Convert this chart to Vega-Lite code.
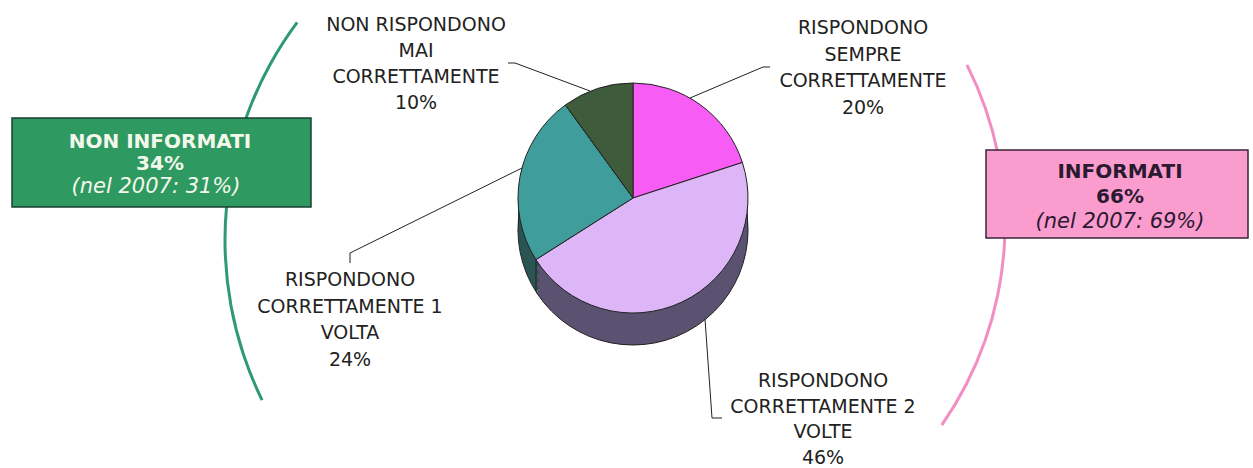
{
  "$schema": "https://vega.github.io/schema/vega-lite/v6.json",
  "width": 1253,
  "height": 468,
  "padding": 0,
  "autosize": "none",
  "background": "white",
  "config": {"view": {"stroke": null}, "axis": {"disable": true}, "legend": {"disable": true}},
  "data": {"values": [
    {"n": 1, "cat": "Rispondono sempre correttamente", "value": 20, "label": "RISPONDONO\nSEMPRE\nCORRETTAMENTE\n20%"},
    {"n": 2, "cat": "Rispondono correttamente 2 volte", "value": 46, "label": "RISPONDONO\nCORRETTAMENTE 2\nVOLTE\n46%"},
    {"n": 3, "cat": "Rispondono correttamente 1 volta", "value": 24, "label": "RISPONDONO\nCORRETTAMENTE 1\nVOLTA\n24%"},
    {"n": 4, "cat": "Non rispondono mai correttamente", "value": 10, "label": "NON RISPONDONO\nMAI\nCORRETTAMENTE\n10%"}
  ]},
  "layer": [
    {
      "data": {"values": [{}]},
      "mark": {"type": "arc", "theta": 4.257, "theta2": 5.353, "outerRadius": 365.5, "innerRadius": 362.5, "fill": "#2f9a72"},
      "encoding": {
        "x": {"datum": 589, "type": "quantitative", "scale": {"domain": [0, 1253], "nice": false, "zero": false}},
        "y": {"datum": 240, "type": "quantitative", "scale": {"domain": [0, 468], "nice": false, "zero": false, "reverse": true}}
      }
    },
    {
      "data": {"values": [{}]},
      "mark": {"type": "arc", "theta": 1.101, "theta2": 2.18, "outerRadius": 353, "innerRadius": 350, "fill": "#f28ec4"},
      "encoding": {
        "x": {"datum": 653.5, "type": "quantitative"},
        "y": {"datum": 224, "type": "quantitative"}
      }
    },
    {
      "mark": {"type": "arc", "outerRadius": 115},
      "encoding": {
        "theta": {"field": "value", "type": "quantitative", "stack": true},
        "order": {"field": "n", "type": "quantitative"},
        "fill": {"field": "cat", "type": "nominal", "scale": {"domain": ["Rispondono sempre correttamente", "Rispondono correttamente 2 volte", "Rispondono correttamente 1 volta", "Non rispondono mai correttamente"], "range": ["#8c2e8c", "#5a5270", "#2b5553", "#25361f"]}},
        "x": {"datum": 633, "type": "quantitative"},
        "y": {"datum": 230, "type": "quantitative"}
      }
    },
    {
      "mark": {"type": "arc", "outerRadius": 115},
      "encoding": {
        "theta": {"field": "value", "type": "quantitative", "stack": true},
        "order": {"field": "n", "type": "quantitative"},
        "fill": {"field": "cat", "type": "nominal"},
        "x": {"datum": 633, "type": "quantitative"},
        "y": {"datum": 222, "type": "quantitative"}
      }
    },
    {
      "mark": {"type": "arc", "outerRadius": 115},
      "encoding": {
        "theta": {"field": "value", "type": "quantitative", "stack": true},
        "order": {"field": "n", "type": "quantitative"},
        "fill": {"field": "cat", "type": "nominal"},
        "x": {"datum": 633, "type": "quantitative"},
        "y": {"datum": 214, "type": "quantitative"}
      }
    },
    {
      "mark": {"type": "arc", "outerRadius": 115},
      "encoding": {
        "theta": {"field": "value", "type": "quantitative", "stack": true},
        "order": {"field": "n", "type": "quantitative"},
        "fill": {"field": "cat", "type": "nominal"},
        "x": {"datum": 633, "type": "quantitative"},
        "y": {"datum": 206, "type": "quantitative"}
      }
    },
    {
      "data": {"values": [{}]},
      "mark": {"type": "arc", "theta": 0, "theta2": 6.2832, "outerRadius": 115, "fillOpacity": 0, "stroke": "#222", "strokeWidth": 1},
      "encoding": {
        "x": {"datum": 633, "type": "quantitative"},
        "y": {"datum": 230, "type": "quantitative"}
      }
    },
    {
      "data": {"values": [{}]},
      "mark": {"type": "rule", "color": "#222", "strokeWidth": 1},
      "encoding": {
        "x": {"datum": 536, "type": "quantitative"},
        "y": {"datum": 259, "type": "quantitative"},
        "y2": {"datum": 291}
      }
    },
    {
      "mark": {"type": "arc", "outerRadius": 115, "stroke": "#222", "strokeWidth": 1},
      "encoding": {
        "theta": {"field": "value", "type": "quantitative", "stack": true},
        "order": {"field": "n", "type": "quantitative"},
        "color": {"field": "cat", "type": "nominal", "scale": {"domain": ["Rispondono sempre correttamente", "Rispondono correttamente 2 volte", "Rispondono correttamente 1 volta", "Non rispondono mai correttamente"], "range": ["#f75cf5", "#dcb6f7", "#3f9d9b", "#3e5c3c"]}},
        "stroke": {"value": "#222"},
        "x": {"datum": 633, "type": "quantitative"},
        "y": {"datum": 198, "type": "quantitative"}
      }
    },
    {
      "data": {"values": [{}]},
      "layer": [
        {"mark": {"type": "rule", "color": "#222"}, "encoding": {"x": {"datum": 508, "type": "quantitative"}, "y": {"datum": 63, "type": "quantitative"}, "x2": {"datum": 515}, "y2": {"datum": 63}}},
        {"mark": {"type": "rule", "color": "#222"}, "encoding": {"x": {"datum": 515, "type": "quantitative"}, "y": {"datum": 63, "type": "quantitative"}, "x2": {"datum": 590}, "y2": {"datum": 91}}},
        {"mark": {"type": "rule", "color": "#222"}, "encoding": {"x": {"datum": 770, "type": "quantitative"}, "y": {"datum": 67, "type": "quantitative"}, "x2": {"datum": 763}, "y2": {"datum": 67}}},
        {"mark": {"type": "rule", "color": "#222"}, "encoding": {"x": {"datum": 763, "type": "quantitative"}, "y": {"datum": 67, "type": "quantitative"}, "x2": {"datum": 690}, "y2": {"datum": 98}}},
        {"mark": {"type": "rule", "color": "#222"}, "encoding": {"x": {"datum": 350, "type": "quantitative"}, "y": {"datum": 263, "type": "quantitative"}, "x2": {"datum": 350}, "y2": {"datum": 253}}},
        {"mark": {"type": "rule", "color": "#222"}, "encoding": {"x": {"datum": 350, "type": "quantitative"}, "y": {"datum": 253, "type": "quantitative"}, "x2": {"datum": 522}, "y2": {"datum": 168}}},
        {"mark": {"type": "rule", "color": "#222"}, "encoding": {"x": {"datum": 705, "type": "quantitative"}, "y": {"datum": 319, "type": "quantitative"}, "x2": {"datum": 712}, "y2": {"datum": 418}}},
        {"mark": {"type": "rule", "color": "#222"}, "encoding": {"x": {"datum": 712, "type": "quantitative"}, "y": {"datum": 418, "type": "quantitative"}, "x2": {"datum": 722}, "y2": {"datum": 418}}}
      ]
    },
    {
      "transform": [{"filter": "datum.n == 4"}],
      "mark": {"type": "text", "font": "DejaVu Sans", "fontSize": 19, "color": "#222", "lineBreak": "\n", "lineHeight": 26, "align": "center", "baseline": "middle"},
      "encoding": {"text": {"field": "label"}, "x": {"datum": 416, "type": "quantitative"}, "y": {"datum": 25, "type": "quantitative"}}
    },
    {
      "transform": [{"filter": "datum.n == 1"}],
      "mark": {"type": "text", "font": "DejaVu Sans", "fontSize": 19, "color": "#222", "lineBreak": "\n", "lineHeight": 26.5, "align": "center", "baseline": "middle"},
      "encoding": {"text": {"field": "label"}, "x": {"datum": 863, "type": "quantitative"}, "y": {"datum": 28, "type": "quantitative"}}
    },
    {
      "transform": [{"filter": "datum.n == 3"}],
      "mark": {"type": "text", "font": "DejaVu Sans", "fontSize": 19, "color": "#222", "lineBreak": "\n", "lineHeight": 26.5, "align": "center", "baseline": "middle"},
      "encoding": {"text": {"field": "label"}, "x": {"datum": 350, "type": "quantitative"}, "y": {"datum": 280, "type": "quantitative"}}
    },
    {
      "transform": [{"filter": "datum.n == 2"}],
      "mark": {"type": "text", "font": "DejaVu Sans", "fontSize": 19, "color": "#222", "lineBreak": "\n", "lineHeight": 25.5, "align": "center", "baseline": "middle"},
      "encoding": {"text": {"field": "label"}, "x": {"datum": 823, "type": "quantitative"}, "y": {"datum": 381, "type": "quantitative"}}
    },
    {
      "data": {"values": [{"group": "NON INFORMATI\n34%", "prev": "(nel 2007: 31%)"}]},
      "layer": [
        {"mark": {"type": "rect", "fill": "#2f9962", "stroke": "#1c3f30", "strokeWidth": 1.5}, "encoding": {"x": {"datum": 12, "type": "quantitative"}, "x2": {"datum": 311}, "y": {"datum": 118, "type": "quantitative"}, "y2": {"datum": 207}}},
        {"mark": {"type": "text", "font": "DejaVu Sans", "fontSize": 20, "fontWeight": "bold", "color": "#f4f8ec", "lineBreak": "\n", "lineHeight": 22, "align": "center", "baseline": "middle"}, "encoding": {"text": {"field": "group"}, "x": {"datum": 160, "type": "quantitative"}, "y": {"datum": 142, "type": "quantitative"}}},
        {"mark": {"type": "text", "font": "DejaVu Sans", "fontSize": 21, "fontStyle": "italic", "color": "#f4f8ec", "align": "center", "baseline": "middle"}, "encoding": {"text": {"field": "prev"}, "x": {"datum": 156, "type": "quantitative"}, "y": {"datum": 187, "type": "quantitative"}}}
      ]
    },
    {
      "data": {"values": [{"group": "INFORMATI\n66%", "prev": "(nel 2007: 69%)"}]},
      "layer": [
        {"mark": {"type": "rect", "fill": "#fb9ccf", "stroke": "#3a2438", "strokeWidth": 1.5}, "encoding": {"x": {"datum": 986, "type": "quantitative"}, "x2": {"datum": 1248}, "y": {"datum": 150, "type": "quantitative"}, "y2": {"datum": 238}}},
        {"mark": {"type": "text", "font": "DejaVu Sans", "fontSize": 20, "fontWeight": "bold", "color": "#2a1a30", "lineBreak": "\n", "lineHeight": 25, "align": "center", "baseline": "middle"}, "encoding": {"text": {"field": "group"}, "x": {"datum": 1120, "type": "quantitative"}, "y": {"datum": 172, "type": "quantitative"}}},
        {"mark": {"type": "text", "font": "DejaVu Sans", "fontSize": 21, "fontStyle": "italic", "color": "#2a1a30", "align": "center", "baseline": "middle"}, "encoding": {"text": {"field": "prev"}, "x": {"datum": 1120, "type": "quantitative"}, "y": {"datum": 222, "type": "quantitative"}}}
      ]
    }
  ]
}
